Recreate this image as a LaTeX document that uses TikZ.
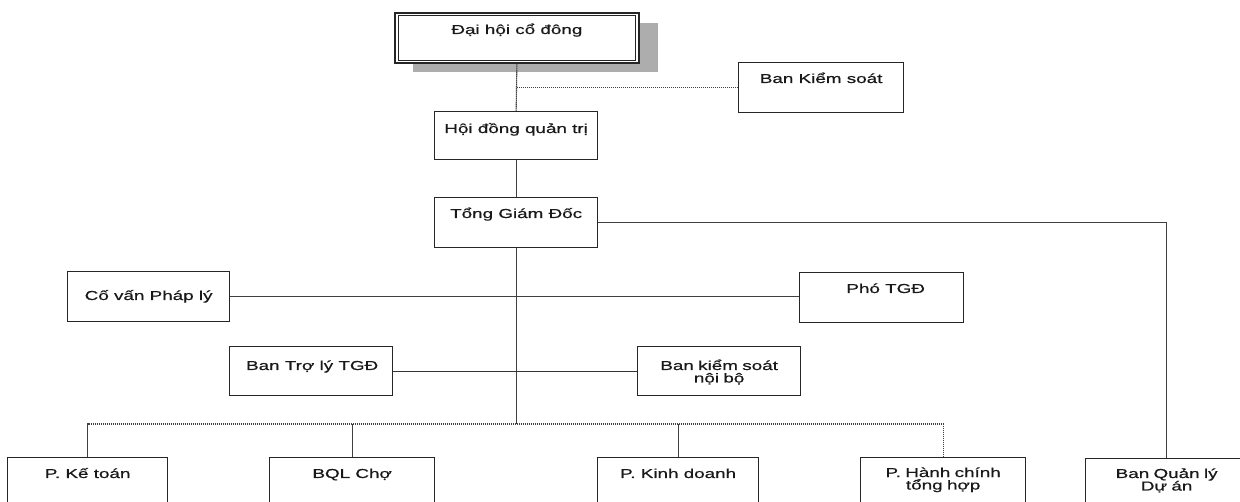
\documentclass[tikz,border=0pt]{standalone}
\usepackage{fontspec}
\setmainfont{Liberation Sans}[FakeStretch=1.45,FakeBold=0.6]
\usetikzlibrary{calc}
\begin{document}
\begin{tikzpicture}[x=1pt,y=-1pt,
  box/.style={draw=black!85, line width=1.3pt, fill=white, inner sep=0pt, anchor=north west},
  lbl/.style={anchor=base, inner sep=0pt, font=\fontsize{13}{12.5}\selectfont, text=black!90},
  lbltwo/.style={lbl, align=center, text width=160pt},
  conn/.style={draw=black!75, line width=1.1pt, dash pattern=on 1.5pt off 0.5pt},
  solidconn/.style={draw=black!80, line width=1.1pt}]
\useasboundingbox (0,0) rectangle (1240,502);
% shadow of top box
\fill[black!32] (413,23) rectangle (658,72);
% boxes
\node[box, line width=1.8pt, minimum width=244pt, minimum height=50pt] (dhcd) at (394,12) {};
\draw[black!85, line width=0.9pt] ($(dhcd.north west)+(4,3)$) rectangle ($(dhcd.south east)+(-4,-3)$);
\node[box, minimum width=165pt, minimum height=50pt] (bks) at (738,62) {};
\node[box, minimum width=163pt, minimum height=48pt] (hdqt) at (434,111) {};
\node[box, minimum width=163pt, minimum height=50pt] (tgd) at (434,197) {};
\node[box, minimum width=162pt, minimum height=50pt] (cvpl) at (67,271) {};
\node[box, minimum width=164pt, minimum height=50pt] (pho) at (799,272) {};
\node[box, minimum width=163pt, minimum height=49pt] (btl) at (229,346) {};
\node[box, minimum width=163pt, minimum height=49pt] (bksnb) at (637,346) {};
\node[box, minimum width=160pt, minimum height=60pt] (pkt) at (7,457) {};
\node[box, minimum width=165pt, minimum height=60pt] (bqlc) at (269,457) {};
\node[box, minimum width=161pt, minimum height=60pt] (pkd) at (597,457) {};
\node[box, minimum width=165pt, minimum height=60pt] (phc) at (860,457) {};
\node[box, minimum width=162pt, minimum height=60pt] (bqlda) at (1085,458) {};
% labels
\node[lbl] (t-dhcd) at ($(dhcd.north)+(0,22)$) {Đại hội cổ đông};
\node[lbl] (t-bks) at ($(bks.north)+(0,21)$) {Ban Kiểm soát};
\node[lbl] (t-hdqt) at ($(hdqt.north)+(0,22)$) {Hội đồng quản trị};
\node[lbl] (t-tgd) at ($(tgd.north)+(0,21)$) {Tổng Giám Đốc};
\node[lbl] (t-cvpl) at ($(cvpl.north)+(0,29)$) {Cố vấn Pháp lý};
\node[lbl] (t-pho) at ($(pho.north)+(4,21)$) {Phó TGĐ};
\node[lbl] (t-btl) at ($(btl.north)+(1,24)$) {Ban Trợ lý TGĐ};
\node[lbltwo] (t-bksnb) at ($(bksnb.north)+(0,24)$) {Ban kiểm soát\\nội bộ};
\node[lbl] (t-pkt) at ($(pkt.north)+(0,21)$) {P. Kế toán};
\node[lbl] (t-bqlc) at ($(bqlc.north)+(0,21)$) {BQL Chợ};
\node[lbl] (t-pkd) at ($(pkd.north)+(0,21)$) {P. Kinh doanh};
\node[lbltwo] (t-phc) at ($(phc.north)+(0,20)$) {P. Hành chính\\tổng hợp};
\node[lbltwo] (t-bqlda) at ($(bqlda.north)+(0,20)$) {Ban Quản lý\\Dự án};
% connectors
\coordinate (busy) at (0,424);
\coordinate (bus) at (tgd.south |- busy);
\coordinate (j1) at (dhcd.south |- bks.west);
\draw[conn] (dhcd.south) -- (hdqt.north);
\draw[conn] (j1) -- (bks.west);
\draw[conn] (hdqt.south) -- (tgd.north);
\draw[conn] (tgd.south) -- (bus);
\draw[conn] (tgd.east) -| (bqlda.north);
\draw[conn] (cvpl.east) -- (cvpl.east -| pho.west);
\draw[solidconn] (btl.east) -- (bksnb.west);
\draw[conn] (pkt.north) -- (pkt.north |- bus) -- (phc.north |- bus) -- (phc.north);
\draw[conn] (bqlc.north) -- (bqlc.north |- bus);
\draw[conn] (pkd.north) -- (pkd.north |- bus);
\end{tikzpicture}
\end{document}
